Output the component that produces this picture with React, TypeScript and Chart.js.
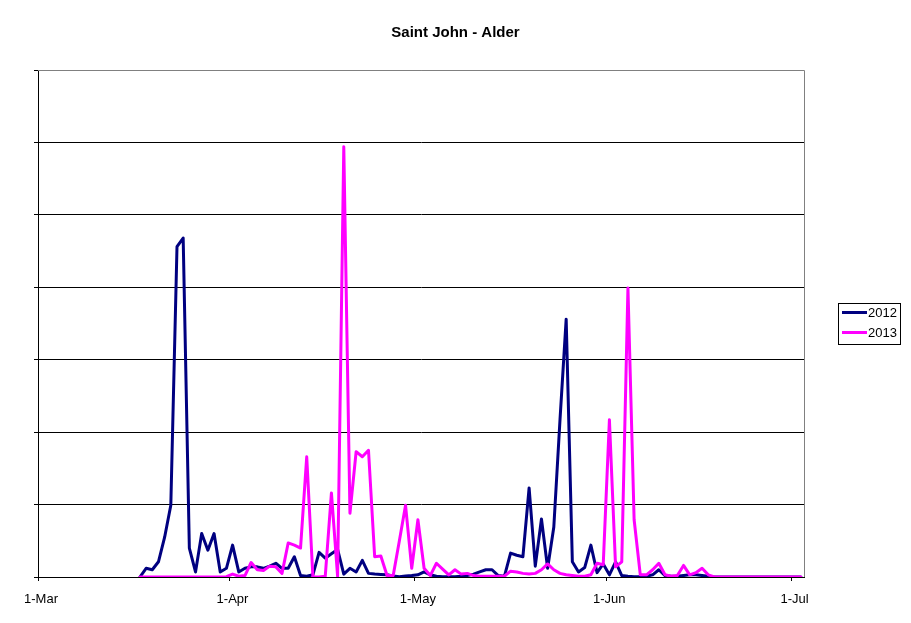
import React, { useEffect, useRef } from 'react';
import { Chart, registerables } from 'chart.js';

Chart.register(...registerables);

const chartTitle = 'Saint John - Alder';
const seriesNames = ['2012', '2013'];
const seriesColors = ['#000080', '#FF00FF'];
// day index counted from 1-Mar (0); first value is 17-Mar
const firstDayIndex = 16;
const axisDays = 124;
const tickDays = [0, 31, 61, 92, 122];
const tickLabels = ['1-Mar', '1-Apr', '1-May', '1-Jun', '1-Jul'];
const yMax = 70;
const yStep = 10;

const values2012 = [
  0, 1.2, 1.0, 2.1, 5.5, 9.9, 45.6, 46.8, 4.0, 0.7,
  6.0, 3.7, 6.0, 0.7, 1.2, 4.4, 0.7, 1.2, 1.4, 1.4,
  1.2, 1.5, 1.9, 1.2, 1.2, 2.8, 0.2, 0.1, 0.3, 3.4,
  2.6, 3.2, 3.8, 0.4, 1.2, 0.7, 2.3, 0.5, 0.4, 0.35,
  0.3, 0.15, 0.05, 0.15, 0.2, 0.3, 0.7, 0.3, 0.1, 0.05,
  0.05, 0.05, 0.1, 0.2, 0.4, 0.7, 1.0, 1.0, 0.2, 0.1,
  3.3, 3.0, 2.8, 12.3, 1.5, 8.0, 1.2, 6.9, 21.7, 35.6,
  2.1, 0.7, 1.3, 4.4, 0.6, 1.8, 0.3, 2.1, 0.2, 0.1,
  0.05, 0.05, 0.1, 0.3, 1.0, 0.2, 0.1, 0.1, 0.2, 0.3,
  0.3, 0.2, 0.1, 0, 0, 0, 0, 0, 0, 0,
  0, 0, 0, 0, 0, 0, 0, 0,
];

const values2013 = [
  0, 0, 0, 0, 0, 0, 0, 0, 0, 0,
  0, 0, 0, 0, 0.05, 0.4, 0.1, 0.2, 2.0, 1.0,
  0.9, 1.5, 1.4, 0.5, 4.7, 4.4, 4.0, 16.6, 0, 0,
  0.1, 11.6, 0.1, 59.4, 8.8, 17.3, 16.6, 17.5, 2.8, 2.9,
  0.2, 0.2, 5.0, 9.9, 1.2, 7.9, 1.2, 0.2, 1.9, 1.1,
  0.3, 1.0, 0.4, 0.5, 0.2, 0.1, 0.1, 0.1, 0.1, 0.1,
  0.8, 0.7, 0.5, 0.4, 0.5, 1.0, 1.8, 1.0, 0.5, 0.3,
  0.2, 0.1, 0.1, 0.3, 1.9, 1.7, 21.7, 1.4, 2.1, 39.9,
  7.9, 0.3, 0.3, 1.0, 1.9, 0.3, 0.1, 0.2, 1.6, 0.3,
  0.6, 1.2, 0.3, 0, 0, 0, 0, 0, 0, 0,
  0, 0, 0, 0, 0, 0, 0, 0,
];

const FONT = 'Arial, "Liberation Sans", sans-serif';

const toPoints = (vals: number[]) =>
  vals.map((v, i) => ({ x: firstDayIndex + i + 0.5, y: v }));

const framePlugin = {
  id: 'frame',
  beforeDatasetsDraw(chart: any) {
    const { ctx, chartArea } = chart;
    ctx.save();
    ctx.strokeStyle = '#808080';
    ctx.lineWidth = 1;
    ctx.beginPath();
    const r = Math.round(chartArea.right) + 0.5;
    const t = Math.round(chartArea.top) + 0.5;
    ctx.moveTo(chartArea.left, t);
    ctx.lineTo(r, t);
    ctx.lineTo(r, chartArea.bottom);
    ctx.stroke();
    ctx.restore();
  },
};

const legendPlugin = {
  id: 'boxLegend',
  afterDraw(chart: any) {
    const { ctx } = chart;
    const x0 = 838.5;
    const y0 = 303.5;
    const w = 62;
    const h = 41;
    ctx.save();
    ctx.fillStyle = '#ffffff';
    ctx.fillRect(x0, y0, w, h);
    ctx.strokeStyle = '#000000';
    ctx.lineWidth = 1;
    ctx.strokeRect(x0, y0, w, h);
    chart.data.datasets.forEach((ds: any, i: number) => {
      const y = 312.5 + i * 20;
      ctx.strokeStyle = ds.borderColor;
      ctx.lineWidth = 3;
      ctx.beginPath();
      ctx.moveTo(842, y);
      ctx.lineTo(867, y);
      ctx.stroke();
      ctx.fillStyle = '#000000';
      ctx.font = `13px ${FONT}`;
      ctx.textBaseline = 'middle';
      ctx.textAlign = 'left';
      ctx.fillText(ds.label, 868, y + 0.5);
    });
    ctx.restore();
  },
};

export default function App() {
  const canvasRef = useRef<HTMLCanvasElement | null>(null);

  useEffect(() => {
    if (!canvasRef.current) return;
    const chart = new Chart(canvasRef.current, {
      type: 'line',
      data: {
        datasets: [
          {
            label: seriesNames[0],
            data: toPoints(values2012),
            borderColor: seriesColors[0],
            backgroundColor: seriesColors[0],
            borderWidth: 3,
            pointRadius: 0,
            tension: 0,
            fill: false,
            borderJoinStyle: 'round',
            borderCapStyle: 'round',
            order: 1,
          },
          {
            label: seriesNames[1],
            data: toPoints(values2013),
            borderColor: seriesColors[1],
            backgroundColor: seriesColors[1],
            borderWidth: 3,
            pointRadius: 0,
            tension: 0,
            fill: false,
            borderJoinStyle: 'round',
            borderCapStyle: 'round',
            order: 0,
          },
        ],
      },
      options: {
        animation: false,
        responsive: false,
        maintainAspectRatio: false,
        devicePixelRatio: 1,
        layout: { padding: 0 },
        plugins: {
          legend: { display: false },
          tooltip: { enabled: false },
          title: {
            display: true,
            text: chartTitle,
            color: '#000000',
            font: { family: FONT, size: 15, weight: 'bold' },
            padding: { top: 24, bottom: 28 },
          },
        },
        scales: {
          x: {
            type: 'linear',
            min: 0,
            max: axisDays,
            afterBuildTicks: (scale: any) => {
              scale.ticks = tickDays.map((v) => ({ value: v }));
            },
            afterFit: (scale: any) => {
              scale.height = 46;
            },
            ticks: {
              autoSkip: false,
              maxRotation: 0,
              color: '#000000',
              padding: 11,
              labelOffset: 3,
              font: { family: FONT, size: 13 },
              callback: (value: any) => {
                const idx = tickDays.indexOf(Number(value));
                return idx >= 0 ? tickLabels[idx] : '';
              },
            },
            grid: {
              display: true,
              drawOnChartArea: false,
              drawTicks: true,
              tickLength: 4,
              color: '#000000',
            },
            border: { display: true, color: '#000000', width: 1 },
          },
          y: {
            type: 'linear',
            min: 0,
            max: yMax,
            afterFit: (scale: any) => {
              scale.width = 38;
            },
            ticks: {
              stepSize: yStep,
              display: false,
            },
            grid: {
              display: true,
              drawTicks: true,
              tickLength: 4,
              tickColor: '#000000',
              color: (ctx: any) => (ctx.tick && ctx.tick.value === yMax ? '#808080' : '#000000'),
            },
            border: { display: true, color: '#000000', width: 1 },
          },
          spacer: {
            type: 'linear',
            position: 'right',
            display: true,
            afterFit: (scale: any) => {
              scale.width = 107;
            },
            ticks: { display: false },
            grid: { display: false, drawTicks: false },
            border: { display: false },
          },
        },
      },
      plugins: [framePlugin, legendPlugin],
    } as any);
    return () => chart.destroy();
  }, []);

  return (
    <div style={{ position: 'absolute', left: 0, top: 0, width: 911, height: 623, background: '#ffffff' }}>
      <canvas ref={canvasRef} width={911} height={623} style={{ width: 911, height: 623, display: 'block' }} />
    </div>
  );
}
